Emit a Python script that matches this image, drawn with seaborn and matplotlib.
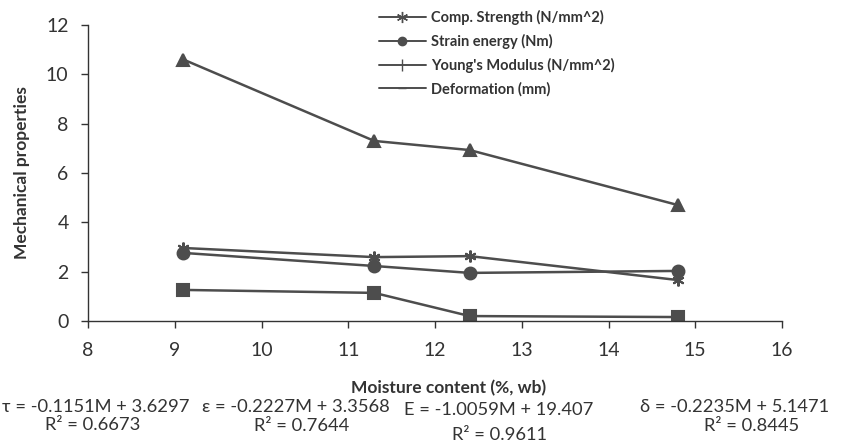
import pandas as pd
import seaborn as sns
import matplotlib.pyplot as plt
from matplotlib.lines import Line2D

# Moisture content (%, wb) and measured mechanical properties
moisture = [9.1, 11.3, 12.4, 14.8]
comp_strength = [2.76, 2.23, 1.95, 2.03]
strain_energy = [1.26, 1.14, 0.20, 0.16]
youngs_modulus = [10.6, 7.3, 6.93, 4.70]
deformation = [2.96, 2.59, 2.63, 1.66]

series_names = ["Comp. Strength (N/mm^2)", "Strain energy (Nm)",
                "Young's Modulus (N/mm^2)", "Deformation (mm)"]
x_ticks = [8, 9, 10, 11, 12, 13, 14, 15, 16]
y_ticks = [0, 2, 4, 6, 8, 10, 12]

equations = ["\u03c4 = -0.1151M + 3.6297", "\u03b5 = -0.2227M + 3.3568",
             "E = -1.0059M + 19.407", "\u03b4 = -0.2235M + 5.1471"]
r_squared = ["R\u00b2 = 0.6673", "R\u00b2 = 0.7644", "R\u00b2 = 0.9611", "R\u00b2 = 0.8445"]

# long-form table for seaborn
df = pd.DataFrame({
    "Moisture": moisture * 4,
    "Value": comp_strength + strain_energy + youngs_modulus + deformation,
    "Series": [s for s in series_names for _ in moisture],
})

sns.set_style("white")
plt.rcParams["font.family"] = ["Lato", "DejaVu Sans"]

fig = plt.figure(figsize=(8.42, 4.47), dpi=100)
ax = fig.add_axes([88 / 842, 1 - 321 / 447, 694 / 842, 296 / 447])

line_col = "#4d4d4d"
txt_col = "#333333"
plot_markers = ["o", "s", "^", (6, 2, 0)]
for name, mk in zip(series_names, plot_markers):
    sub = df[df["Series"] == name]
    sns.lineplot(data=sub, x="Moisture", y="Value", marker=mk, color=line_col,
                 linewidth=1.8, markersize=8.5, markeredgecolor=line_col,
                 markeredgewidth=1.5, ax=ax)

ax.set_xlim(8, 16)
ax.set_ylim(0, 12)
ax.set_xticks(x_ticks)
ax.set_yticks(y_ticks)
ax.tick_params(axis="both", labelsize=14, colors=txt_col, length=5, width=1,
               direction="out", bottom=True, left=True)
ax.tick_params(axis="x", pad=10)
ax.tick_params(axis="y", pad=9)
for side in ["top", "right"]:
    ax.spines[side].set_visible(False)
for side in ["left", "bottom"]:
    ax.spines[side].set_color(txt_col)
    ax.spines[side].set_linewidth(1.0)

ax.set_xlabel("Moisture content (%, wb)", fontsize=12.5, fontweight="bold", color=txt_col)
ax.set_ylabel("Mechanical properties", fontsize=12.5, fontweight="bold", color=txt_col)
ax.xaxis.set_label_coords(0.52, -(388 - 321) / 296)
ax.xaxis.label.set_va("center")
ax.yaxis.set_label_coords(-(88 - 22) / 694, 0.5)
ax.yaxis.label.set_va("center")

# legend markers as they appear in the original figure
handles = [
    Line2D([], [], color=line_col, lw=1.4, marker=(6, 2, 0), markersize=8),
    Line2D([], [], color=line_col, lw=1.4, marker="o", markersize=6),
    Line2D([], [], color=line_col, lw=1.4, marker="|", markersize=9),
    Line2D([], [], color=line_col, lw=1.4, marker="_", markersize=6),
]
fig.legend(handles, series_names, loc="upper left", bbox_to_anchor=(366 / 842, 1.008),
           frameon=False, prop={"weight": "bold", "size": 10.5}, handlelength=3.2,
           labelspacing=0.62, handletextpad=0.35, labelcolor=txt_col)

# trendline equations under the axis
eq_x = [96, 296, 499, 735]
r2_x = [93, 302, 500, 752]
eq_y = [407, 407, 410, 407]
r2_y = [425, 426, 435, 426]
for i in range(4):
    fig.text(eq_x[i] / 842, 1 - eq_y[i] / 447, equations[i], ha="center", va="center",
             fontsize=13.2, color=txt_col)
    fig.text(r2_x[i] / 842, 1 - r2_y[i] / 447, r_squared[i], ha="center", va="center",
             fontsize=13.2, color=txt_col)

fig.savefig("out.png", dpi=100)
